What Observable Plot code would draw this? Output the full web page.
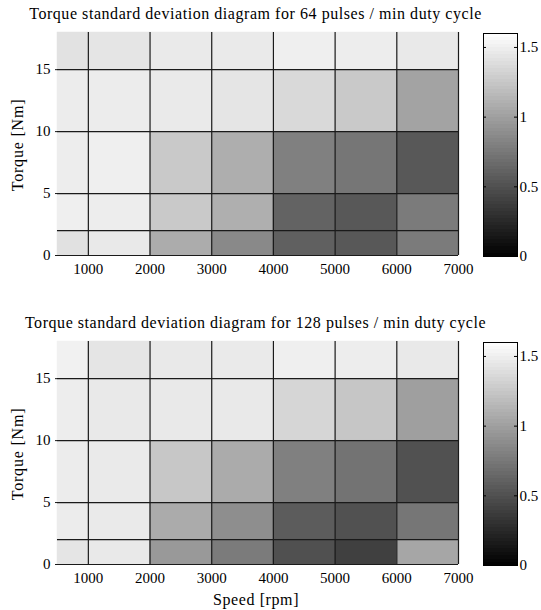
<!DOCTYPE html>
<html><head><meta charset="utf-8">
<script src="https://cdn.jsdelivr.net/npm/d3@7"></script>
<script src="https://cdn.jsdelivr.net/npm/@observablehq/plot@0.6"></script>
<style>
body{margin:0;background:#fff;}
#root{position:relative;width:541px;height:610px;font-family:"Liberation Serif","Times New Roman",serif;color:#000;overflow:hidden;}
.abs{position:absolute;}
.title{font-size:16px;left:0;width:511px;text-align:center;line-height:18px;white-space:nowrap;letter-spacing:0.55px;}
.ylab{font-size:16px;white-space:nowrap;transform:translate(-50%,-50%) rotate(-90deg);line-height:18px;letter-spacing:0.8px;}
.xlab{font-size:16px;white-space:nowrap;transform:translate(-50%,-50%);line-height:18px;letter-spacing:0.6px;}
</style></head><body><div id="root"></div>
<script>
// Cell edges
const speedEdges = [500, 1000, 2000, 3000, 4000, 5000, 6000, 7000];
const torqueEdges = [0, 2, 5, 10, 15, 18];
const speedTicks = [1000, 2000, 3000, 4000, 5000, 6000, 7000];
const torqueTicks = [0, 5, 10, 15];
const colorTicks = [0, 0.5, 1, 1.5];
const colorDomain = [0, 1.6];

const titles = [
  "Torque standard deviation diagram for 64 pulses / min duty cycle",
  "Torque standard deviation diagram for 128 pulses / min duty cycle"
];
const xLabel = "Speed [rpm]";
const yLabel = "Torque [Nm]";

// Standard deviation values, rows from torque 0-2 (bottom) up to 15-18 (top),
// columns by speed band 500-1000, 1000-2000, ..., 6000-7000
const std64 = [
  [1.41, 1.46, 1.08, 0.86, 0.60, 0.55, 0.77],
  [1.50, 1.49, 1.26, 1.10, 0.62, 0.55, 0.77],
  [1.49, 1.50, 1.26, 1.09, 0.80, 0.74, 0.55],
  [1.48, 1.48, 1.47, 1.44, 1.36, 1.26, 1.02],
  [1.42, 1.44, 1.47, 1.47, 1.50, 1.49, 1.46]
];
const std128 = [
  [1.44, 1.46, 0.96, 0.77, 0.50, 0.40, 1.04],
  [1.48, 1.47, 1.07, 0.89, 0.58, 0.51, 0.74],
  [1.48, 1.47, 1.25, 1.07, 0.80, 0.72, 0.51],
  [1.49, 1.46, 1.46, 1.46, 1.34, 1.24, 1.00],
  [1.51, 1.44, 1.46, 1.47, 1.50, 1.49, 1.46]
];

const root = document.getElementById("root");
const colorScale = {type: "linear", domain: colorDomain, range: ["#000000", "#ffffff"], interpolate: d3.interpolateRgb};
const font = {fontFamily: "'Liberation Serif','Times New Roman',serif", fontSize: "15px", background: "transparent", color: "#000", overflow: "visible"};
const gridColor = "#1a1a1a";

function cellsFrom(values) {
  const out = [];
  values.forEach((row, i) => row.forEach((v, j) => out.push({
    x1: speedEdges[j], x2: speedEdges[j + 1], y1: torqueEdges[i], y2: torqueEdges[i + 1], v
  })));
  return out;
}

function addDiv(cls, text, styles) {
  const d = document.createElement("div");
  d.className = "abs " + cls;
  d.textContent = text;
  Object.assign(d.style, styles);
  root.appendChild(d);
  return d;
}

function panel(values, title, top, showXLabel) {
  addDiv("title", title, {top: (top + 5) + "px"});
  const heat = Plot.plot({
    width: 483, height: 280,
    marginTop: 32, marginBottom: 25, marginLeft: 57, marginRight: 25,
    style: font,
    x: {domain: [speedEdges[0], speedEdges[speedEdges.length - 1]]},
    y: {domain: [torqueEdges[0], torqueEdges[torqueEdges.length - 1]]},
    color: colorScale,
    marks: [
      Plot.rect(cellsFrom(values), {x1: "x1", x2: "x2", y1: "y1", y2: "y2", fill: "v", stroke: "v", strokeWidth: 0.5}),
      Plot.ruleX(speedEdges.slice(1), {stroke: gridColor, strokeWidth: 1.2}),
      Plot.ruleY(torqueEdges.slice(1, -1), {stroke: gridColor, strokeWidth: 1.2}),
      Plot.ruleY([torqueEdges[0]], {stroke: gridColor, strokeWidth: 1.2}),
      Plot.axisX(speedTicks, {tickSize: 0, tickPadding: 8, label: null, fontSize: 15, tickFormat: d => String(d)}),
      Plot.axisY(torqueTicks, {tickSize: 2, tickPadding: 5, label: null, fontSize: 15, stroke: gridColor, tickFormat: d => String(d)})
    ]
  });
  heat.style.position = "absolute";
  heat.style.left = "0px";
  heat.style.top = top + "px";
  root.appendChild(heat);

  const step = (colorDomain[1] - colorDomain[0]) / 64;
  const levels = d3.range(64).map(i => colorDomain[0] + i * step);
  const bar = Plot.plot({
    width: 58, height: 280,
    marginTop: 33, marginBottom: 24, marginLeft: 0, marginRight: 24,
    style: font,
    y: {domain: colorDomain},
    color: colorScale,
    marks: [
      Plot.rect(levels, {y1: d => d, y2: d => d + step, fill: d => d + step / 2, stroke: d => d + step / 2, strokeWidth: 1, shapeRendering: "crispEdges"}),
      Plot.tickY(colorTicks, {y: d => d, insetLeft: 31, stroke: "#000"}),
      Plot.tickY(colorTicks, {y: d => d, insetRight: 31, stroke: "#000"}),
      Plot.frame({stroke: "#000"}),
      Plot.axisY(colorTicks, {anchor: "right", tickSize: 0, tickPadding: 2, label: null, fontSize: 15, tickFormat: d => String(d)})
    ]
  });
  bar.style.position = "absolute";
  bar.style.left = "483px";
  bar.style.top = top + "px";
  root.appendChild(bar);

  addDiv("ylab", yLabel, {left: "18px", top: (top + 145) + "px"});
  if (showXLabel) addDiv("xlab", xLabel, {left: "256px", top: (top + 291) + "px"});
}

panel(std64, titles[0], 0, false);
panel(std128, titles[1], 309, true);
</script>
</body></html>
